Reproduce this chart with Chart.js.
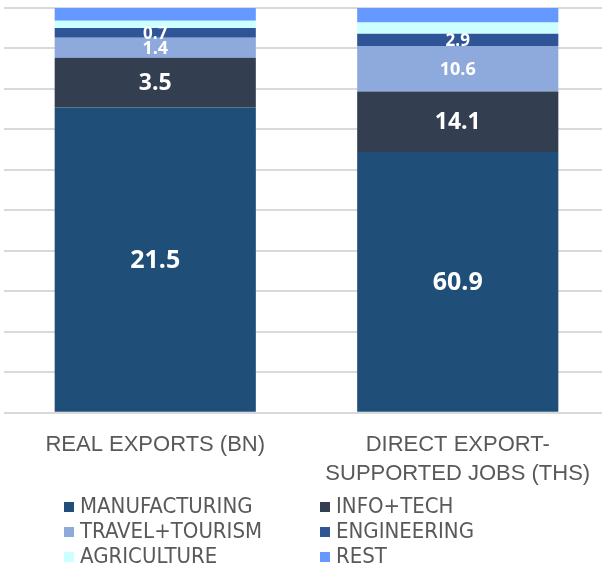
<!DOCTYPE html>
<html>
<head>
<meta charset="utf-8">
<script src="https://cdn.jsdelivr.net/npm/chart.js@4/dist/chart.umd.min.js"></script>
<style>
  html, body { margin: 0; padding: 0; background: #fff; overflow: hidden; }
  #wrap { position: relative; width: 609px; height: 498px; }
  #legend {
    position: absolute; left: 64px; top: 493px;
    display: grid; grid-template-columns: 256px 256px; row-gap: 0;
    font-family: "DejaVu Sans Condensed", sans-serif;
    font-size: 22px; color: #595959; line-height: 25px;
  }
  #legend span.box { display: inline-block; width: 10px; height: 10px; margin-right: 6px; vertical-align: 1px; }
</style>
</head>
<body>
<div id="wrap"><canvas id="chart"></canvas></div>
<div id="legend"></div>
<script>
const categories = [['REAL EXPORTS (BN)'], ['DIRECT EXPORT-', 'SUPPORTED JOBS (THS)']];
const seriesNames = ['MANUFACTURING', 'INFO+TECH', 'TRAVEL+TOURISM', 'ENGINEERING', 'AGRICULTURE', 'REST'];
const manufacturing = [21.5, 60.9];
const infoTech = [3.5, 14.1];
const travelTourism = [1.4, 10.6];
const engineering = [0.7, 2.9];
const agriculture = [0.5, 2.6];
const rest = [0.9, 3.4];
const colors = ['#1F4E79', '#333F50', '#8EA9DB', '#2F5597', '#CCFFFF', '#6699FF'];
const showLabel = [true, true, true, true, false, false];
const labelSize = [25, 23, 18, 17, 17, 17];

const raw = [manufacturing, infoTech, travelTourism, engineering, agriculture, rest];
const totals = categories.map((c, i) => raw.reduce((s, arr) => s + arr[i], 0));

const datasets = raw.map((arr, k) => ({
  label: seriesNames[k],
  data: arr.map((v, i) => v / totals[i] * 100),
  rawValues: arr,
  backgroundColor: colors[k],
  borderWidth: 0,
  barPercentage: 0.665,
  categoryPercentage: 1
}));

// white value labels in the middle of each segment
const valueLabels = {
  id: 'valueLabels',
  afterDatasetsDraw(chart) {
    const ctx = chart.ctx;
    ctx.save();
    ctx.fillStyle = '#fff';
    ctx.textAlign = 'center';
    ctx.textBaseline = 'middle';
    chart.data.datasets.forEach((ds, k) => {
      if (!showLabel[k]) return;
      ctx.font = 'bold ' + labelSize[k] + 'px "Open Sans", Lato, sans-serif';
      chart.getDatasetMeta(k).data.forEach((bar, i) => {
        ctx.fillText(ds.rawValues[i].toFixed(1), bar.x, (bar.y + bar.base) / 2 + 1);
      });
    });
    ctx.restore();
  }
};

new Chart(document.getElementById('chart'), {
  type: 'bar',
  data: { labels: categories, datasets: datasets },
  plugins: [valueLabels],
  options: {
    responsive: true,
    maintainAspectRatio: false,
    animation: false,
    layout: { padding: { left: 4, right: 0, top: 8, bottom: 0 } },
    plugins: { legend: { display: false }, tooltip: { enabled: false } },
    scales: {
      x: {
        stacked: true,
        grid: { display: false },
        border: { display: false },
        ticks: {
          color: '#595959',
          font: { family: '"Liberation Sans", Arial, sans-serif', size: 22, lineHeight: 1.3 },
          padding: 10
        }
      },
      y: {
        stacked: true,
        min: 0,
        max: 100,
        ticks: { display: false, stepSize: 10 },
        grid: { color: '#d9d9d9', lineWidth: 2, drawTicks: false },
        border: { display: false }
      }
    }
  }
});

const legend = document.getElementById('legend');
seriesNames.forEach((name, k) => {
  const item = document.createElement('div');
  item.innerHTML = '<span class="box" style="background:' + colors[k] + '"></span>' + name;
  legend.appendChild(item);
});
</script>
</body>
</html>
